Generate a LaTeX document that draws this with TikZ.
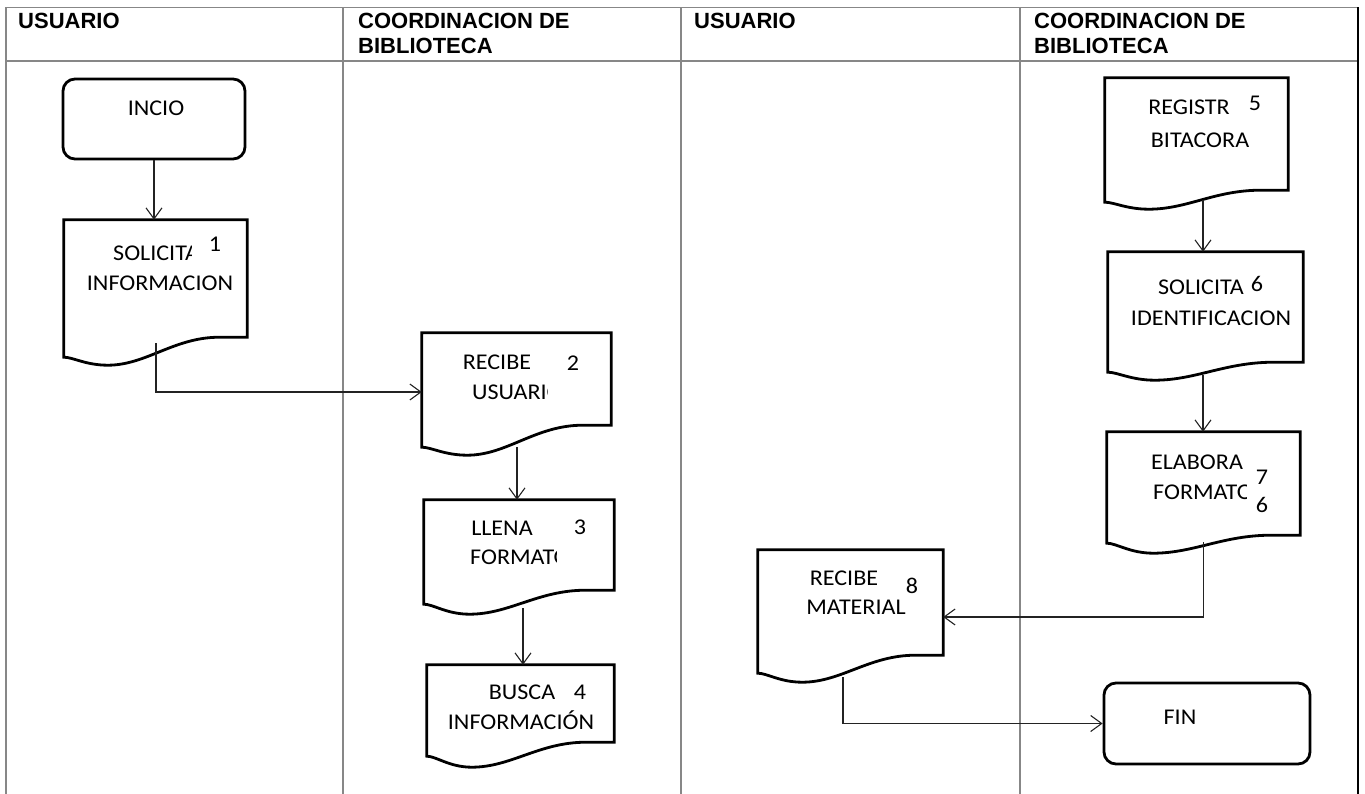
\documentclass[tikz,border=0pt]{standalone}
\usepackage{fontspec}
\newfontfamily\boxfont[FakeStretch=1.07]{Carlito}
\newfontfamily\headfont{Liberation Sans}
\usetikzlibrary{arrows.meta,calc,positioning}
\definecolor{lanegray}{RGB}{135,135,135}
\definecolor{flowgray}{RGB}{35,35,35}

% document symbol drawn round an empty node: #1 node, #2 drop of left end, #3 depth of trough
\newcommand{\docshape}[3]{%
  \draw[docline] let \p1=(#1.north west), \p2=(#1.south east), \n1={\x2-\x1} in
    (\p1) -- (\x2,\y1) -- (\p2) -- ({\x1+0.85*\n1},\y2)
    .. controls ({\x1+0.6*\n1},\y2) and ({\x1+0.45*\n1},{\y2-#3}) .. ({\x1+0.24*\n1},{\y2-#3})
    .. controls ({\x1+0.12*\n1},{\y2-#3}) and ({\x1+0.05*\n1},{\y2-#2}) .. ({\x1},{\y2-#2}) -- cycle;
}

\tikzset{
  lane/.style={draw=lanegray, line width=1.5pt},
  lanehead/.style={font=\headfont\bfseries\fontsize{22}{26}\selectfont, anchor=base west, inner sep=0pt},
  txt/.style={font=\boxfont\fontsize{22.5}{26}\selectfont, inner sep=0pt, text height=14.5pt, text depth=0pt},
  startstop/.style={draw, line width=2.8pt, rounded corners=12pt},
  docnode/.style={inner sep=0pt},
  docline/.style={draw, line width=2.8pt},
  flow/.style={draw=flowgray, line width=1.1pt, -{Straight Barb[length=11pt,width=16pt]}},
}

\begin{document}
\begin{tikzpicture}[x=1pt,y=-1pt]
  \useasboundingbox (0,0) rectangle (1365,794);

  % lanes
  \draw[lane] (6,794) -- (6,7.5) -- (1358,7.5);
  \draw[lane] (6,61) -- (1358,61);
  \foreach \x in {343,681,1020}{
    \draw[lane] (\x,7.5) -- (\x,794);
  }
  \draw[draw=black, line width=1.4pt] (1358,7.5) -- (1358,794);

  \node[lanehead] (h1) at (18,29) {USUARIO};
  \node[lanehead] (h2) at (358,29) {COORDINACION DE};
  \node[lanehead] (h2b) at (358,54) {BIBLIOTECA};
  \node[lanehead] (h3) at (694,29) {USUARIO};
  \node[lanehead] (h4) at (1034,29) {COORDINACION DE};
  \node[lanehead] (h4b) at (1034,54) {BIBLIOTECA};

  % start and end
  \node[startstop, minimum width=182pt, minimum height=80pt] (inicio) at (154,119) {};
  \node[txt] (inicio-t) at (156,108) {INCIO};
  \node[startstop, minimum width=206pt, minimum height=81pt] (fin) at (1207,723.5) {};
  \node[txt] (fin-t) at (1180,717) {FIN};

  % documents
  \node[docnode, minimum width=183pt, minimum height=117pt] (d1) at (155.5,278.5) {};
  \node[docnode, minimum width=189pt, minimum height=92pt] (d2) at (516.5,379) {};
  \node[docnode, minimum width=190pt, minimum height=90pt] (d3) at (519,545) {};
  \node[docnode, minimum width=187pt, minimum height=77pt] (d4) at (520.5,703.5) {};
  \node[docnode, minimum width=183pt, minimum height=112pt] (d5) at (1196.5,134) {};
  \node[docnode, minimum width=195pt, minimum height=110pt] (d6) at (1205.5,307) {};
  \node[docnode, minimum width=193pt, minimum height=103pt] (d7) at (1203.5,483.5) {};
  \node[docnode, minimum width=185pt, minimum height=105pt] (d8) at (850.5,602.5) {};
  \docshape{d1}{20}{28}
  \docshape{d2}{22}{30}
  \docshape{d3}{14}{24}
  \docshape{d4}{14}{25}
  \docshape{d5}{12}{19}
  \docshape{d6}{10}{18}
  \docshape{d7}{8}{18}
  \docshape{d8}{18}{27}

  % texts of the documents
  \begin{scope}
    \clip (100,235) rectangle (191,272);
    \node[txt, anchor=west] (d1-a) at (113,253) {SOLICITA};
  \end{scope}
  \node[txt] (d1-n) at (215,244) {1};
  \node[txt] (d1-b) at (160,283) {INFORMACION};

  \node[txt] (d2-a) at (497,362) {RECIBE};
  \node[txt] (d2-n) at (573,363) {2};
  \begin{scope}
    \clip (460,374) rectangle (547,410);
    \node[txt, anchor=west] (d2-b) at (472,392) {USUARIO};
  \end{scope}

  \node[txt] (d3-a) at (502,528) {LLENA};
  \node[txt] (d3-n) at (580,527) {3};
  \begin{scope}
    \clip (460,540) rectangle (556,575);
    \node[txt, anchor=west] (d3-b) at (470,557) {FORMATO};
  \end{scope}

  \node[txt] (d4-a) at (522,692) {BUSCA};
  \node[txt] (d4-n) at (580,692) {4};
  \node[txt] (d4-b) at (521,722) {INFORMACIÓN};

  \node[txt] (d5-a) at (1189,107) {REGISTR};
  \node[txt] (d5-n) at (1255,103) {5};
  \node[txt] (d5-b) at (1200,140) {BITACORA};

  \node[txt] (d6-a) at (1201,287) {SOLICITA};
  \node[txt] (d6-n) at (1257,284) {6};
  \node[txt] (d6-b) at (1211,318) {IDENTIFICACION};

  \node[txt] (d7-a) at (1197,462) {ELABORA};
  \node[txt] (d7-n) at (1262,477) {7};
  \begin{scope}
    \clip (1140,475) rectangle (1246,510);
    \node[txt, anchor=west] (d7-b) at (1153,492) {FORMATO};
  \end{scope}
  \node[txt] (d7-m) at (1262,505) {6};

  \node[txt] (d8-a) at (844,578) {RECIBE};
  \node[txt] (d8-n) at (912,586) {8};
  \node[txt] (d8-b) at (856,607) {MATERIAL};

  % connectors
  \draw[flow] (inicio.south) -- (inicio.south |- d1.north);
  \draw[flow] ($(d1.south)+(0.5,6)$) |- ($(d2.west)+(0,13)$);
  \draw[flow] ($(d2.south)+(0.5,22)$) coordinate (a2) -- (a2 |- d3.north);
  \draw[flow] ($(d3.south)+(4,18)$) coordinate (a3) -- (a3 |- d4.north);
  \draw[flow] ($(d5.south)+(6.5,10)$) coordinate (a5) -- (a5 |- d6.north);
  \draw[flow] ($(d6.south)+(-2.5,13)$) coordinate (a6) -- (a6 |- d7.north);
  \draw[flow] ($(d7.south)+(0,7)$) |- ($(d8.east)+(0,14.5)$);
  \draw[flow] ($(d8.south)+(-7.5,22)$) |- (fin.west);
\end{tikzpicture}
\end{document}
